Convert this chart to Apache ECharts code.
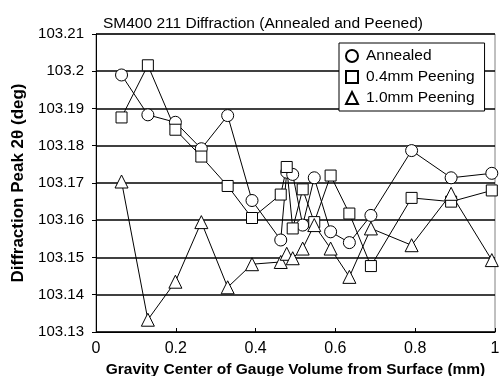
<!DOCTYPE html>
<html>
<head>
<meta charset="utf-8">
<script src="https://cdn.jsdelivr.net/npm/echarts@6/dist/echarts.min.js"></script>
<style>
  html, body { margin: 0; padding: 0; background: #fff; }
  #chart { width: 500px; height: 376px; }
</style>
</head>
<body>
<div id="chart"></div>
<script>
// depth of gauge volume centre (mm)
const depth = [0.064, 0.13, 0.199, 0.264, 0.33, 0.391, 0.463, 0.478, 0.493, 0.518, 0.547, 0.588, 0.635, 0.689, 0.791, 0.89, 0.992];
// peak positions (deg)
const annealed = [103.199, 103.1883, 103.1863, 103.1792, 103.1881, 103.1653, 103.1547, 103.1729, 103.1723, 103.1587, 103.1714, 103.1569, 103.154, 103.1613, 103.1787, 103.1714, 103.1726];
const peen04 = [103.1876, 103.2016, 103.1843, 103.1771, 103.1692, 103.1606, 103.1669, 103.1743, 103.1578, 103.1683, 103.1595, 103.172, 103.1618, 103.1477, 103.166, 103.165, 103.168];
const peen10 = [103.1704, 103.1333, 103.1435, 103.1595, 103.142, 103.1482, 103.1488, 103.151, 103.1498, 103.1524, 103.1587, 103.1524, 103.1448, 103.1578, 103.1533, 103.1671, 103.1493];
const seriesNames = ["Annealed", "0.4mm Peening", "1.0mm Peening"];
const symbols = ["circle", "rect", "triangle"];
const symbolSizes = [12, 11, 13];

const font = "Arial, 'Liberation Sans', sans-serif";

function pairs(ys) {
  return depth.map((x, i) => [x, ys[i]]);
}

const allData = [annealed, peen04, peen10];

const option = {
  animation: false,
  backgroundColor: "#fff",
  title: {
    text: "SM400 211 Diffraction (Annealed and Peened)",
    left: 98,
    top: 11,
    textStyle: { fontFamily: font, fontSize: 15.5, fontWeight: "normal", color: "#000" }
  },
  grid: {
    left: 96,
    right: 5,
    top: 34,
    bottom: 44,
    outerBoundsMode: "none",
    show: true,
    borderColor: "#808080",
    borderWidth: 1
  },
  legend: {
    orient: "vertical",
    left: 339,
    top: 43,
    padding: [5, 10, 5, 6],
    itemGap: 5,
    itemWidth: 12,
    itemHeight: 12,
    backgroundColor: "#fff",
    borderColor: "#000",
    borderWidth: 1,
    borderRadius: 0,
    textStyle: { fontFamily: font, fontSize: 15.5, color: "#000", padding: [0, 0, 0, 3] },
    data: seriesNames.map((n, i) => ({ name: n, icon: symbols[i] }))
  },
  xAxis: {
    type: "value",
    min: 0,
    max: 1,
    interval: 0.2,
    name: "Gravity Center of Gauge Volume from Surface (mm)",
    nameLocation: "middle",
    nameGap: 25,
    nameTextStyle: { fontFamily: font, fontSize: 15.5, fontWeight: "bold", color: "#000" },
    axisLine: { lineStyle: { color: "#000" } },
    axisTick: { inside: true, length: 4, lineStyle: { color: "#000" } },
    axisLabel: { fontFamily: font, fontSize: 16, color: "#000", margin: 9 },
    splitLine: { show: false }
  },
  yAxis: {
    type: "value",
    min: 103.13,
    max: 103.21,
    interval: 0.01,
    name: "Diffraction Peak 2θ (deg)",
    nameLocation: "middle",
    nameGap: 62,
    nameTextStyle: { fontFamily: font, fontSize: 17, fontWeight: "bold", color: "#000" },
    axisLine: { show: true, lineStyle: { color: "#000" } },
    axisTick: { show: true, length: 4, lineStyle: { color: "#000" } },
    axisLabel: {
      fontFamily: font, fontSize: 15, color: "#000", margin: 12,
      formatter: v => String(parseFloat(v.toFixed(2)))
    },
    splitLine: { show: true, lineStyle: { color: "#000", width: 1.5 } }
  },
  series: seriesNames.map((n, i) => ({
    name: n,
    type: "line",
    data: pairs(allData[i]),
    symbol: symbols[i],
    symbolSize: symbolSizes[i],
    showAllSymbol: true,
    lineStyle: { color: "#000", width: 1 },
    itemStyle: { color: "#fff", borderColor: "#000", borderWidth: 1 }
  }))
};

echarts.init(document.getElementById("chart")).setOption(option);
</script>
</body>
</html>
